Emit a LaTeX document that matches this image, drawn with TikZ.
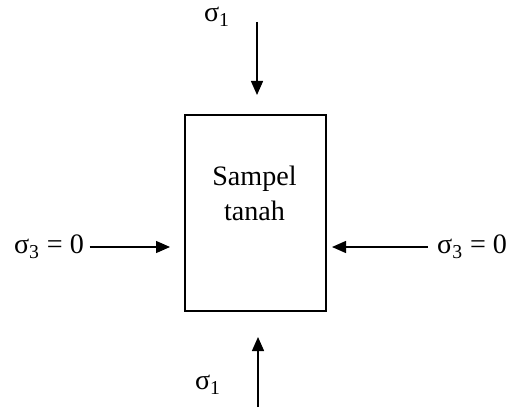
\documentclass[tikz,border=0pt]{standalone}
\usepackage{fontspec}
\setmainfont{Liberation Serif}
\usetikzlibrary{arrows.meta}

\tikzset{
  load/.style={-{Triangle[length=.28cm,width=.24cm]}, line width=.8pt},
  lbl/.style={font=\fontsize{16}{19}\selectfont, inner sep=1pt}
}

\begin{document}
\begin{tikzpicture}
        \useasboundingbox (0,0) rectangle (10.14,8.14);

        % sampel
        \node[draw, line width=.8pt, minimum width=2.82cm, minimum height=3.92cm] (box) at (5.11,3.88) {};
        \node[lbl, align=center] (txt) at (5.09,4.28) {Sampel\\[1pt]tanah};

         % sigma_1 top
        \node[lbl] (s1a) at (4.34,7.80) {σ\textsubscript{1}};
        \coordinate (ta) at (5.14,7.70);
        \coordinate (tb) at (5.14,6.24);
        \draw[load] (ta) -- (tb);

         % sigma_1 bottom
        \node[lbl] (s1b) at (4.16,0.44) {σ\textsubscript{1}};
        \coordinate (ba) at (5.16,0);
        \coordinate (bb) at (5.16,1.40);
        \draw[load] (ba) -- (bb);

         % sigma_3 left
        \node[lbl, anchor=east] (s3l) at (1.72,3.20) {σ\textsubscript{3} = 0};
        \coordinate (lb) at (3.40,3.20);
        \draw[load, shorten <=2pt] (s3l.east) -- (lb);

         % sigma_3 right
        \node[lbl, anchor=west] (s3r) at (8.70,3.20) {σ\textsubscript{3} = 0};
        \coordinate (rb) at (6.64,3.20);
        \draw[load, shorten <=4pt] (s3r.west) -- (rb);
      \end{tikzpicture}
\end{document}
